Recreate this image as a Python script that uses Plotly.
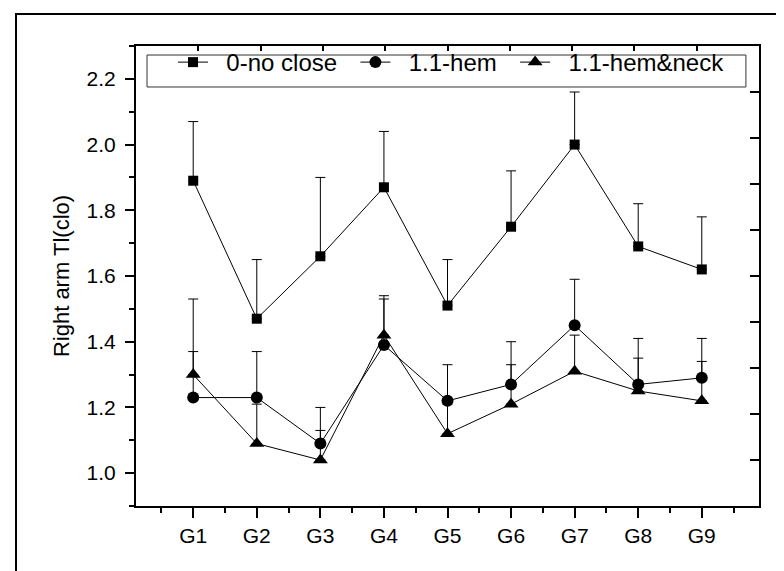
import plotly.graph_objects as go

groups = ["G1", "G2", "G3", "G4", "G5", "G6", "G7", "G8", "G9"]
xpos = [1, 2, 3, 4, 5, 6, 7, 8, 9]

no_close = [1.89, 1.47, 1.66, 1.87, 1.51, 1.75, 2.00, 1.69, 1.62]
no_close_top = [2.07, 1.65, 1.90, 2.04, 1.65, 1.92, 2.16, 1.82, 1.78]

hem = [1.23, 1.23, 1.09, 1.39, 1.22, 1.27, 1.45, 1.27, 1.29]
hem_top = [1.37, 1.37, 1.20, 1.53, 1.33, 1.40, 1.59, 1.41, 1.41]

hem_neck = [1.30, 1.09, 1.04, 1.42, 1.12, 1.21, 1.31, 1.25, 1.22]
hem_neck_top = [1.53, 1.21, 1.13, 1.54, 1.21, 1.33, 1.42, 1.35, 1.34]

y_ticks = [1.0, 1.2, 1.4, 1.6, 1.8, 2.0, 2.2]
y_ticktext = ["1.0", "1.2", "1.4", "1.6", "1.8", "2.0", "2.2"]

series_names = ["0-no close", "1.1-hem", "1.1-hem&neck"]

FONT = "Liberation Sans, Arial, sans-serif"
NB = "\u00a0"

fig = go.Figure()

series = [
    (series_names[0], no_close, no_close_top, "square", 10),
    (series_names[1], hem, hem_top, "circle", 12),
    (series_names[2], hem_neck, hem_neck_top, "triangle-up", 13),
]
for name, vals, tops, sym, size in series:
    fig.add_trace(go.Scatter(
        x=xpos, y=vals, name=NB * 2 + name + NB * 2, mode="lines+markers",
        line=dict(color="black", width=1),
        marker=dict(symbol=sym, size=size, color="black"),
        error_y=dict(type="data", symmetric=False,
                     array=[t - v for t, v in zip(tops, vals)],
                     arrayminus=[0] * len(vals),
                     color="black", thickness=1, width=5),
    ))

# invisible traces to activate the mirrored top/right axes
fig.add_trace(go.Scatter(x=[None], y=[None], xaxis="x2", yaxis="y", showlegend=False, hoverinfo="skip"))
fig.add_trace(go.Scatter(x=[None], y=[None], xaxis="x", yaxis="y2", showlegend=False, hoverinfo="skip"))

fig.update_layout(
    width=784, height=571,
    margin=dict(l=128, r=33, t=38, b=73),
    paper_bgcolor="white", plot_bgcolor="white",
    font=dict(family=FONT, color="black", size=21),
    showlegend=True,
    legend=dict(
        orientation="h", x=0.0594, y=1.013, xanchor="left", yanchor="top",
        borderwidth=0, bgcolor="rgba(0,0,0,0)",
        font=dict(family=FONT, size=24, color="black"),
        itemwidth=30, tracegroupgap=0,
    ),
    xaxis=dict(
        range=[0.1, 9.9], tickmode="array", tickvals=xpos, ticktext=groups,
        ticks="outside", ticklen=10, tickwidth=1.5, tickcolor="black",
        showline=True, linewidth=2, linecolor="black", showgrid=False, zeroline=False,
        minor=dict(tickmode="array", tickvals=[i + 0.5 for i in range(0, 10)],
                   ticks="outside", ticklen=5, tickwidth=1.5, tickcolor="black", showgrid=False),
        tickfont=dict(family=FONT, size=21, color="black"),
    ),
    yaxis=dict(
        range=[0.9, 2.3], tickmode="array", tickvals=y_ticks, ticktext=y_ticktext,
        ticks="outside", ticklen=9, tickwidth=1.5, tickcolor="black",
        showline=True, linewidth=2, linecolor="black", showgrid=False, zeroline=False,
        minor=dict(tickmode="linear", tick0=0.9, dtick=0.2,
                   ticks="outside", ticklen=5, tickwidth=1.5, tickcolor="black", showgrid=False),
        title=dict(text="Right arm Tl(clo)", font=dict(family=FONT, size=22, color="black"), standoff=11),
        tickfont=dict(family=FONT, size=21, color="black"),
        ticklabelstandoff=5,
    ),
    xaxis2=dict(
        overlaying="x", side="top", anchor="y", range=[0, 10],
        tickmode="array", tickvals=xpos, ticks="inside", ticklen=5, tickwidth=1.5,
        tickcolor="black", showticklabels=False, showline=True, linewidth=2,
        linecolor="black", showgrid=False, zeroline=False,
    ),
    yaxis2=dict(
        overlaying="y", side="right", anchor="x", range=[0, 10],
        tickmode="array", tickvals=xpos, ticks="inside", ticklen=9, tickwidth=1.5,
        tickcolor="black", showticklabels=False, showline=True, linewidth=2,
        linecolor="black", showgrid=False, zeroline=False,
    ),
    shapes=[
        dict(type="rect", xref="paper", yref="paper",
             x0=-0.1926, x1=1.15, y0=-0.25, y1=1.0696,
             line=dict(color="black", width=2), fillcolor="rgba(0,0,0,0)", layer="above"),
        # legend frame
        dict(type="rect", xref="paper", yref="paper",
             x0=0.0177, x1=0.979, y0=0.9109, y1=0.9804,
             line=dict(color="#333333", width=1), fillcolor="white", layer="above"),
    ],
)

fig.write_html("out.html")
